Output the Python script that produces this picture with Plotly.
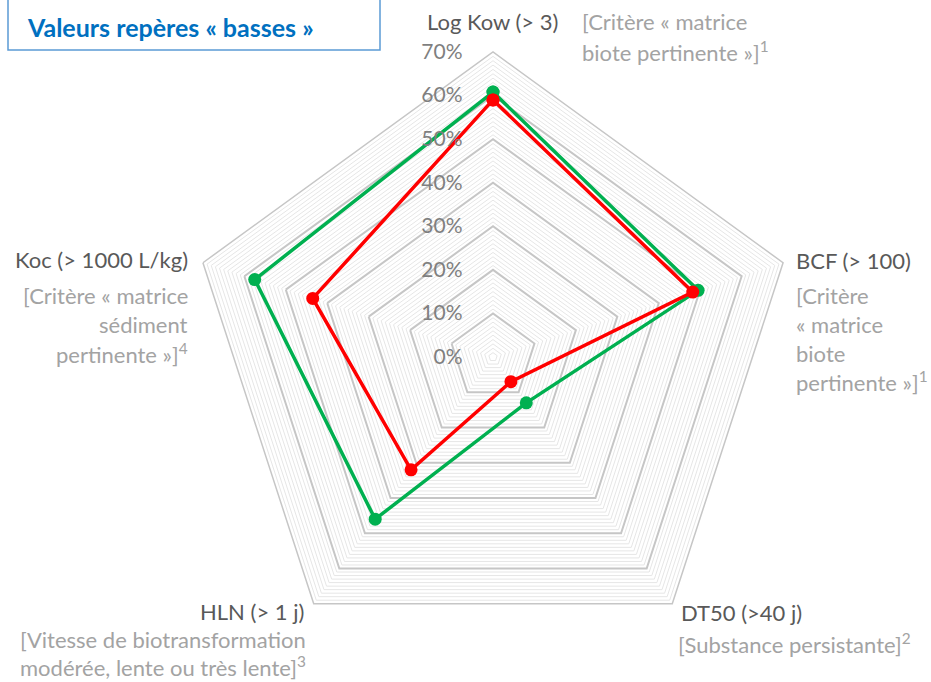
import plotly.graph_objects as go

# categories (axes of the radar) and the two series, in %
categories = ["Log Kow", "BCF", "DT50", "HLN", "Koc"]
serie_verte = [60.8, 49.5, 13.0, 46.0, 57.5]
serie_rouge = [59.0, 48.2, 7.0, 32.0, 43.5]

major_ticks = [0, 10, 20, 30, 40, 50, 60, 70]
tick_labels = ["0%", "10%", "20%", "30%", "40%", "50%", "60%", "70%"]
minor_step = 1

W, H = 931, 682
cx, cy, R = 493, 357, 305

DARK = "#595959"
LIGHT = "#a3a3a3"
FONT = "Lato"

fig = go.Figure()

# minor grid pentagons (every 1 %)
r_minor, th_minor = [], []
for v in range(minor_step, 70, minor_step):
    if v % 10 == 0:
        continue
    r_minor += [v] * (len(categories) + 1) + [None]
    th_minor += categories + [categories[0], None]
fig.add_trace(go.Scatterpolar(
    r=r_minor, theta=th_minor, mode="lines",
    line=dict(color="#e6e6e6", width=1),
    hoverinfo="skip", connectgaps=False,
))

for vals, col in [(serie_verte, "#00b050"), (serie_rouge, "#ff0000")]:
    fig.add_trace(go.Scatterpolar(
        r=vals + [vals[0]], theta=categories + [categories[0]],
        mode="lines+markers",
        line=dict(color=col, width=3.5),
        marker=dict(color=col, size=13),
    ))

fig.update_layout(
    width=W, height=H,
    margin=dict(l=0, r=0, t=0, b=0),
    paper_bgcolor="white",
    showlegend=False,
    font=dict(family=FONT, color=DARK),
    polar=dict(
        domain=dict(x=[(cx - R) / W, (cx + R) / W],
                    y=[(H - cy - R) / H, (H - cy + R) / H]),
        gridshape="linear",
        bgcolor="white",
        angularaxis=dict(
            categoryarray=categories, rotation=90, direction="clockwise",
            showticklabels=False, ticks="", showgrid=False,
            showline=True, linecolor="#c6c6c6", linewidth=1.5,
        ),
        radialaxis=dict(
            range=[0, 70], tickvals=major_ticks,
            # non-breaking spaces push the labels left of the vertical axis
            ticktext=[t + "\u00a0" * 5 for t in tick_labels],
            angle=90, side="counterclockwise", tickangle=90,
            showline=False, ticks="",
            gridcolor="#c6c6c6", gridwidth=1.5,
            tickfont=dict(family=FONT, size=21, color="#7f7f7f"),
        ),
    ),
)

LS = 29  # line spacing in px


def px(x, y):
    return x / W, 1 - y / H


def label(x, y, lines, color, xanchor, ls=LS):
    for i, t in enumerate(lines):
        ax, ay = px(x, y + i * ls)
        fig.add_annotation(
            x=ax, y=ay, xref="paper", yref="paper", text=t, showarrow=False,
            xanchor=xanchor, yanchor="middle", align=xanchor,
            font=dict(family=FONT, size=22, color=color),
        )


label(492, 22, ["Log Kow (> 3)"], DARK, "center")
label(580, 22, ["[Critère « matrice", "biote pertinente »]<sup>1</sup>"], LIGHT, "left")
label(794, 260, ["BCF (> 100)"], DARK, "left")
label(794, 295, ["[Critère", "« matrice", "biote", "pertinente »]<sup>1</sup>"], LIGHT, "left")
label(679, 612, ["DT50 (>40 j)"], DARK, "left")
label(676, 643, ["[Substance persistante]<sup>2</sup>"], LIGHT, "left")
label(306, 611, ["HLN (> 1 j)"], DARK, "right")
label(308, 639, ["[Vitesse de biotransformation", "modérée, lente ou très lente]<sup>3</sup>"], LIGHT, "right", 27)
label(190, 259, ["Koc (> 1000 L/kg)"], DARK, "right")
label(190, 295, ["[Critère « matrice", "sédiment", "pertinente »]<sup>4</sup>"], LIGHT, "right")

# boxed title
x0, y0 = px(8, -5)
x1, y1 = px(380, 50)
fig.add_shape(type="rect", xref="paper", yref="paper", x0=x0, y0=y1, x1=x1, y1=y0,
              line=dict(color="#5b9bd5", width=1.5), fillcolor="rgba(0,0,0,0)")
tx, ty = px(25, 27)
fig.add_annotation(x=tx, y=ty, xref="paper", yref="paper", showarrow=False,
                   xanchor="left", yanchor="middle",
                   text="<b>Valeurs repères « basses »</b>",
                   font=dict(family=FONT, size=25, color="#0070c0"))

fig.write_html("out.html", config={"displayModeBar": False},
               post_script="document.body.style.margin='0';")
